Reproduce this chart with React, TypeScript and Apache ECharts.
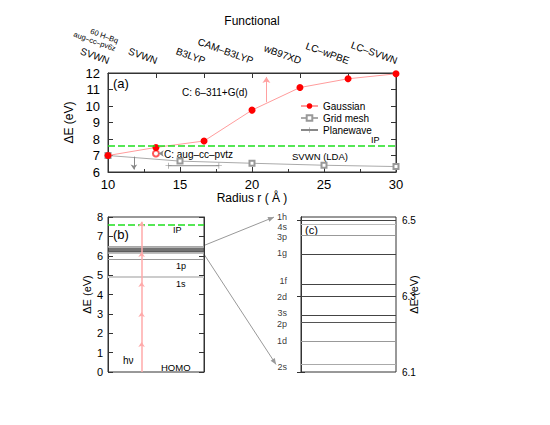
import React, { useEffect, useRef } from 'react';
import * as echarts from 'echarts';

const FONT = "'Liberation Sans', Arial, Helvetica, sans-serif";
const AXIS_COLOR = '#333';

// panel (a)
const functionals = ['SVWN', 'SVWN', 'B3LYP', 'CAM–B3LYP', 'wB97XD', 'LC–wPBE', 'LC–SVWN'];
const gaussianX = [10, 13.33, 16.67, 20, 23.33, 26.67, 30];
const gaussianY = [7.0, 7.49, 7.88, 9.75, 11.12, 11.65, 11.95];
const gridMeshX = [10, 15, 20, 25, 30];
const gridMeshY = [7.0, 6.66, 6.53, 6.41, 6.33];
const planewaveX = [14.2, 17.7];
const planewaveY = [6.38, 6.38];
const augCcPvtzPoint = [13.33, 7.12];
const ipEnergy = 7.58;
const upArrowA = [[21, 10.23], [21, 11.76]];
const downArrowA = [[11.8, 6.93], [11.8, 6.15]];
const pointerArrowA = [[13.78, 7.12], [13.52, 7.12]];

// panel (b)
const lowLevelNames = ['1p', '1s'];
const lowLevelValues = [5.8, 4.92];
const photonSteps = [0, 1.55, 3.1, 4.65, 6.2, 7.75];
const photonX = 0.35;

// panel (c)
const levelNames = ['1h', '4s', '3p', '1g', '1f', '2d', '3s', '2p', '1d', '2s'];
const levelValues = [6.499, 6.488, 6.457, 6.414, 6.335, 6.296, 6.248, 6.232, 6.185, 6.116];
const levelShade = ['#444', '#bbb', '#999', '#444', '#444', '#444', '#444', '#555', '#999', '#aaa'];
const levelLabelShift = [-3, 2, 1, 0, -2, -1, -3, 2, 1, 1];
const cTicks = [6.1, 6.3, 6.5];

function arrowHead(x1: number, y1: number, x2: number, y2: number, len = 6, half = 2.5) {
  const dx = x2 - x1;
  const dy = y2 - y1;
  const d = Math.sqrt(dx * dx + dy * dy) || 1;
  const ux = dx / d;
  const uy = dy / d;
  const bx = x2 - ux * len;
  const by = y2 - uy * len;
  return [
    [x2, y2],
    [bx - uy * half, by + ux * half],
    [bx + uy * half, by - ux * half],
  ];
}

export default function App() {
  const ref = useRef<HTMLDivElement>(null);
  useEffect(() => {
    document.body.style.margin = '0';
    const chart = echarts.init(ref.current!, null, { renderer: 'svg' });

    const tickStyle = { inside: true, length: 5, lineStyle: { color: AXIS_COLOR } };
    const lineAxis = { show: true, lineStyle: { color: AXIS_COLOR, width: 1 } };
    const plus = 'path://M0,4.5H10V5.5H0Z M4.5,0H5.5V10H4.5Z';

    const option: any = {
      animation: false,
      textStyle: { fontFamily: FONT, color: '#000' },
      grid: [
        { left: 108, top: 73, width: 288, height: 99, show: true, borderColor: AXIS_COLOR, borderWidth: 1 },
        { left: 108, top: 217, width: 96, height: 155, show: true, borderColor: AXIS_COLOR, borderWidth: 1 },
        { left: 301, top: 217, width: 95, height: 155, show: true, borderColor: AXIS_COLOR, borderWidth: 1 },
      ],
      legend: {
        data: ['Gaussian', 'Grid mesh', 'Planewave'],
        orient: 'vertical',
        left: 295,
        top: 96,
        itemWidth: 17,
        itemHeight: 7,
        itemGap: 2,
        textStyle: { fontSize: 10, fontFamily: FONT, color: '#000' },
      },
      xAxis: [
        {
          gridIndex: 0, type: 'value', min: 10, max: 30, interval: 5, position: 'bottom',
          axisLine: lineAxis, axisTick: tickStyle,
          minorTick: { show: true, splitNumber: 2, length: 3, lineStyle: { color: AXIS_COLOR } },
          splitLine: { show: false },
          axisLabel: { fontSize: 13, color: '#000', margin: 6 },
          name: 'Radius r ( Å )', nameLocation: 'middle', nameGap: 20,
          nameTextStyle: { fontSize: 12, color: '#000' },
        },
        {
          gridIndex: 0, type: 'category', position: 'top', data: functionals, boundaryGap: false,
          axisLine: lineAxis, axisTick: { ...tickStyle, interval: 0 },
          axisLabel: { show: false },
          name: 'Functional', nameLocation: 'middle', nameGap: 46, nameMoveOverlap: false,
          nameTextStyle: { fontSize: 12, color: '#000' },
        },
        { gridIndex: 1, type: 'value', min: 0, max: 1, show: false },
        { gridIndex: 2, type: 'value', min: 0, max: 1, show: false },
      ],
      yAxis: [
        {
          gridIndex: 0, type: 'value', min: 6, max: 12, interval: 1, position: 'left',
          axisLine: lineAxis, axisTick: tickStyle, splitLine: { show: false },
          axisLabel: { fontSize: 13, color: '#000', margin: 8 },
          name: 'ΔE (eV)', nameLocation: 'middle', nameGap: 23,
          nameTextStyle: { fontSize: 12, color: '#000' },
        },
        {
          gridIndex: 0, type: 'value', min: 6, max: 12, interval: 1, position: 'right',
          axisLine: lineAxis, axisTick: tickStyle, splitLine: { show: false },
          axisLabel: { show: false },
        },
        {
          gridIndex: 1, type: 'value', min: 0, max: 8, interval: 1, position: 'left',
          axisLine: lineAxis, axisTick: tickStyle, splitLine: { show: false },
          axisLabel: { fontSize: 11, color: '#000', margin: 5 },
          name: 'ΔE (eV)', nameLocation: 'middle', nameGap: 11,
          nameTextStyle: { fontSize: 11, color: '#000' },
        },
        {
          gridIndex: 1, type: 'value', min: 0, max: 8, interval: 1, position: 'right',
          axisLine: lineAxis, axisTick: tickStyle, splitLine: { show: false },
          axisLabel: { show: false },
        },
        {
          gridIndex: 2, type: 'value', min: 6.1, max: 6.508, position: 'right',
          axisLine: lineAxis,
          axisTick: { ...tickStyle, length: 4, customValues: cTicks },
          splitLine: { show: false },
          axisLabel: { fontSize: 10, color: '#000', margin: 6, customValues: cTicks, formatter: (v: number) => v.toFixed(1) },
          name: 'ΔE (eV)', nameLocation: 'middle', nameGap: 12, nameMoveOverlap: false,
          nameTextStyle: { fontSize: 11, color: '#000' },
        },
        {
          gridIndex: 2, type: 'value', min: 6.1, max: 6.508, position: 'left',
          axisLine: lineAxis,
          axisTick: { ...tickStyle, length: 4, customValues: cTicks },
          splitLine: { show: false },
          axisLabel: { show: false },
        },
      ],
      series: [
        {
          name: 'Grid mesh', type: 'line', xAxisIndex: 0, yAxisIndex: 0,
          data: gridMeshX.map((x, i) => [x, gridMeshY[i]]),
          symbol: 'emptyRect', symbolSize: 5,
          itemStyle: { color: '#999', borderWidth: 1 },
          lineStyle: { color: '#aaa', width: 1 },
          markLine: {
            silent: true, symbol: ['none', 'arrow'], symbolSize: 5,
            label: { show: false },
            lineStyle: { color: '#888', width: 1, type: 'solid' },
            data: [
              [{ coord: downArrowA[0] }, { coord: downArrowA[1] }],
              [{ coord: pointerArrowA[0] }, { coord: pointerArrowA[1] }],
            ],
          },
        },
        {
          name: 'Planewave', type: 'line', xAxisIndex: 0, yAxisIndex: 0,
          data: planewaveX.map((x, i) => [x, planewaveY[i]]),
          symbol: plus, symbolSize: 6,
          itemStyle: { color: '#888' },
          lineStyle: { color: '#888', width: 1 },
        },
        {
          type: 'line', xAxisIndex: 0, yAxisIndex: 0, data: [],
          markLine: {
            silent: true, symbol: ['none', 'none'], label: { show: false },
            lineStyle: { color: '#1ee01e', width: 1.6, type: [7, 3] },
            data: [{ yAxis: ipEnergy }],
          },
        },
        {
          type: 'scatter', xAxisIndex: 0, yAxisIndex: 0,
          data: [augCcPvtzPoint],
          symbol: 'emptyCircle', symbolSize: 6,
          itemStyle: { color: '#ff3030', borderWidth: 1 },
        },
        {
          name: 'Gaussian', type: 'line', xAxisIndex: 0, yAxisIndex: 0, z: 4,
          data: gaussianX.map((x, i) => [x, gaussianY[i]]),
          symbol: 'circle', symbolSize: 7,
          itemStyle: { color: '#ff0000' },
          lineStyle: { color: '#ff9c9c', width: 1 },
          markLine: {
            silent: true, symbol: ['none', 'arrow'], symbolSize: 6,
            label: { show: false },
            lineStyle: { color: '#ffa0a0', width: 1, type: 'solid' },
            data: [[{ coord: upArrowA[0] }, { coord: upArrowA[1] }]],
          },
        },
        // panel (b)
        {
          type: 'line', xAxisIndex: 2, yAxisIndex: 2, data: [],
          markLine: {
            silent: true, symbol: ['none', 'none'], label: { show: false },
            data: [
              ...levelValues.map((v, i) => ({ yAxis: v, lineStyle: { color: levelShade[i], width: 1, type: 'solid', opacity: 0.75 } })),
              { yAxis: lowLevelValues[0], lineStyle: { color: '#999', width: 1, type: 'solid' } },
              { yAxis: lowLevelValues[1], lineStyle: { color: '#ccc', width: 2, type: 'solid' } },
              { yAxis: ipEnergy, lineStyle: { color: '#1ee01e', width: 1.6, type: [7, 3] } },
            ],
          },
        },
        {
          type: 'line', xAxisIndex: 2, yAxisIndex: 2, data: [],
          markLine: {
            silent: true, symbol: ['none', 'arrow'], symbolSize: 5, label: { show: false },
            lineStyle: { color: '#ffaaaa', width: 1.5, type: 'solid' },
            data: photonSteps.slice(1).map((e, i) => [
              { coord: [photonX, photonSteps[i]] },
              { coord: [photonX, e] },
            ]),
          },
        },
        // panel (c)
        {
          type: 'line', xAxisIndex: 3, yAxisIndex: 4, data: [],
          markLine: {
            silent: true, symbol: ['none', 'none'], label: { show: false },
            data: levelValues.map((v, i) => ({ yAxis: v, lineStyle: { color: levelShade[i], width: 1, type: 'solid' } })),
          },
        },
        {
          type: 'scatter', xAxisIndex: 3, yAxisIndex: 4, symbolSize: 0,
          data: levelValues.map((v, i) => ({
            value: [0, v], name: levelNames[i],
            label: { offset: [0, levelLabelShift[i]] },
          })),
          label: { show: true, formatter: '{b}', position: 'left', distance: 14, fontSize: 9, color: '#000', fontFamily: FONT },
        },
      ],
    };

    chart.setOption(option);

    // connectors from (b) to (c)
    const b1 = chart.convertToPixel({ gridIndex: 1 }, [1, 6.53]) as number[];
    const b2 = chart.convertToPixel({ gridIndex: 1 }, [1, 6.08]) as number[];
    const c1 = chart.convertToPixel({ gridIndex: 2 }, [0, 6.505]) as number[];
    const c2 = chart.convertToPixel({ gridIndex: 2 }, [0, 6.12]) as number[];
    const e1 = [c1[0] - 27, c1[1] - 1];
    const e2 = [c2[0] - 25, c2[1]];
    const conn = '#999';

    const txt = (text: string, x: number, y: number, size: number, extra: any = {}) => ({
      type: 'text', x, y, silent: true,
      style: { text, fontSize: size, fontFamily: FONT, fill: '#000', align: 'left', verticalAlign: 'middle', ...extra },
    });

    // rotated functional labels on the top axis
    const topY = (chart.convertToPixel({ gridIndex: 0 }, [10, 12]) as number[])[1];
    const rot = -20 * Math.PI / 180;
    const funcLabels = functionals.map((f, i) => {
      const px = chart.convertToPixel({ xAxisIndex: 1 }, i) as number;
      return { ...txt(f, px + 1, topY - 12, 10, { align: 'right' }), rotation: rot };
    });
    const x0 = chart.convertToPixel({ xAxisIndex: 1 }, 0) as number;

    chart.setOption({
      graphic: {
        elements: [
          { type: 'line', silent: true, shape: { x1: b1[0], y1: b1[1], x2: e1[0], y2: e1[1] }, style: { stroke: conn, lineWidth: 1 } },
          { type: 'polygon', silent: true, shape: { points: arrowHead(b1[0], b1[1], e1[0], e1[1]) }, style: { fill: conn } },
          { type: 'line', silent: true, shape: { x1: b2[0], y1: b2[1], x2: e2[0], y2: e2[1] }, style: { stroke: conn, lineWidth: 1 } },
          { type: 'polygon', silent: true, shape: { points: arrowHead(b2[0], b2[1], e2[0], e2[1]) }, style: { fill: conn } },
          ...funcLabels,
          { ...txt('aug–cc–pv6z', x0 + 7.5, topY - 24, 7.5, { align: 'right' }), rotation: rot },
          { ...txt('60 H–Bq', x0 + 10, topY - 32, 7.5, { align: 'right' }), rotation: rot },
          txt('(a)', 113, 83, 13),
          txt('C: 6–311+G(d)', 182, 92, 10),
          txt('SVWN (LDA)', 292, 156, 9.5),
          txt('IP', 371, 140, 9),
          txt('C: aug–cc–pvtz', 164, 154, 10),
          txt('(b)', 113, 234, 13),
          txt('IP', 173, 230, 9),
          txt(lowLevelNames[0], 176, 266, 9),
          txt(lowLevelNames[1], 176, 284, 9),
          txt('hν', 123, 360, 10),
          txt('HOMO', 161, 367, 9.5),
          txt('(c)', 305, 230, 11),
        ],
      },
    });

    return () => chart.dispose();
  }, []);
  return <div ref={ref} style={{ width: 550, height: 425 }} />;
}
